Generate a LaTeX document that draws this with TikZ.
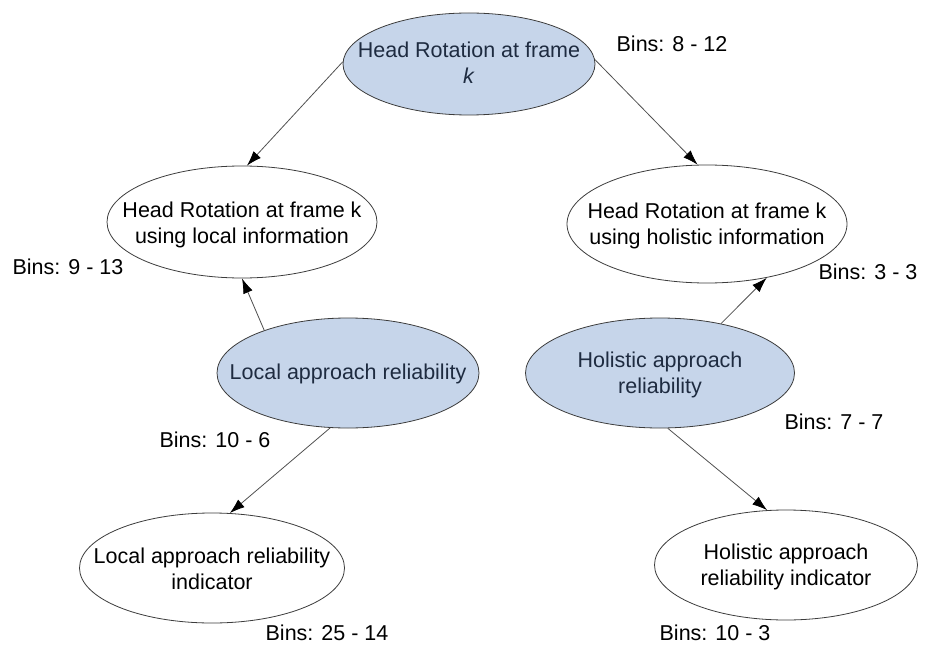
\documentclass[tikz,border=0pt]{standalone}
\usepackage{fontspec}
\setmainfont{Liberation Sans}
\usetikzlibrary{shapes.geometric,arrows.meta}
\definecolor{nodeblue}{HTML}{C6D5EA}
\definecolor{bluetext}{HTML}{1E2B40}
\definecolor{edgegray}{HTML}{3C3C3C}
\definecolor{linegray}{HTML}{505050}
\begin{document}
\begin{tikzpicture}[x=1pt,y=-1pt,
  font=\fontsize{21.5}{26}\selectfont,
  oval/.style={ellipse,draw=edgegray,line width=0.8pt,inner sep=0pt,fill=white},
  blueoval/.style={oval,fill=nodeblue},
  txt/.style={align=center,inner sep=0pt},
  btxt/.style={txt,text=bluetext},
  bins/.style={inner sep=0pt,anchor=center},
  conn/.style={draw=linegray,line width=0.8pt,-{Latex[length=15pt,width=10pt,black]}}]
\useasboundingbox (0,0) rectangle (931,647);
% ellipses
\node[blueoval,minimum width=252pt,minimum height=102pt] (top) at (469,64) {};
\node[oval,minimum width=270pt,minimum height=112pt] (hl) at (242,222) {};
\node[oval,minimum width=280pt,minimum height=118pt] (hr) at (707,224) {};
\node[blueoval,minimum width=262pt,minimum height=110pt] (lr) at (348,373) {};
\node[blueoval,minimum width=269pt,minimum height=110pt] (hor) at (660,373) {};
\node[oval,minimum width=265pt,minimum height=110pt] (lari) at (212,568) {};
\node[oval,minimum width=263pt,minimum height=110pt] (hari) at (786,565) {};
% texts
\node[btxt] (toptxt) at (469,63) {Head Rotation at frame\\\textit{k}};
\node[txt] (hltxt) at (242,225) {Head Rotation at frame k\\using local information};
\node[txt] (hrtxt) at (707,226) {Head Rotation at frame k\\using holistic information};
\node[btxt] (lrtxt) at (348,374) {Local approach reliability};
\node[btxt] (hortxt) at (660,375) {Holistic approach\\reliability};
\node[txt] (laritxt) at (212,569) {Local approach reliability\\indicator};
\node[txt] (haritxt) at (786,567) {Holistic approach\\reliability indicator};
% bins labels
\node[bins] (b1) at (672,44) {Bins: 8 - 12};
\node[bins] (b2) at (68,267) {Bins: 9 - 13};
\node[bins] (b3) at (868,272) {Bins: 3 - 3};
\node[bins] (b4) at (834,422) {Bins: 7 - 7};
\node[bins] (b5) at (215,440) {Bins: 10 - 6};
\node[bins] (b6) at (327,633) {Bins: 25 - 14};
\node[bins] (b7) at (715,633) {Bins: 10 - 3};
% connectors
\draw[conn] (top.179) -- (hl.85);
\draw[conn] (top.2) -- (hr.99);
\draw[conn] (lr.153) -- (hl.270);
\draw[conn] (hor.39) -- (hr.-42);
\draw[conn] (lr.252) -- (lari.72);
\draw[conn] (hor.278) -- (hari.109);
\end{tikzpicture}
\end{document}
